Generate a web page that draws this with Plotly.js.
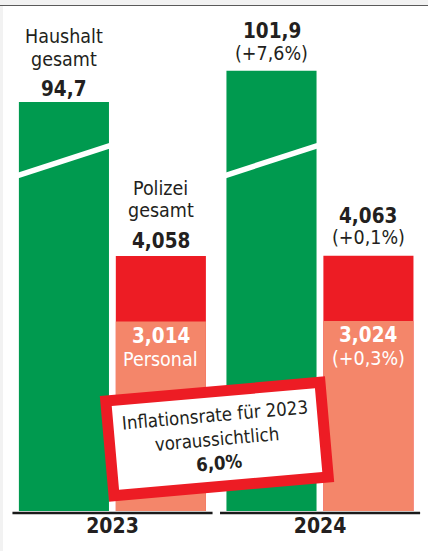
<!DOCTYPE html>
<html>
<head>
<meta charset="utf-8">
<script src="https://cdn.plot.ly/plotly-3.0.1.min.js"></script>
<style>
  html, body { margin: 0; padding: 0; background: #ffffff; }
  #chart { width: 428px; height: 551px; }
</style>
</head>
<body>
<div id="chart"></div>
<script>
// ---- data ----
const years = ['2023', '2024'];
const haushalt = [94.7, 101.9];          // Haushalt gesamt (Mrd. Euro)
const haushaltChange = [null, '+7,6%'];
const polizei = [4.058, 4.063];          // Polizei gesamt
const polizeiChange = [null, '+0,1%'];
const personal = [3.014, 3.024];         // davon Personal
const personalChange = [null, '+0,3%'];
const inflationYear = '2023';
const inflationRate = 6.0;

// ---- style ----
const FONT = '"DejaVu Sans Condensed", "Liberation Sans Narrow", sans-serif';
const FS = 19.5;
const GREEN = '#009a4f';
const RED = '#ed1c24';
const SALMON = '#f4866a';
const TEXT = '#231f20';
const W = 0.434;          // bar width (category units)
const OFF_G = -0.451;     // offset green bar
const OFF_P = 0.016;      // offset police bar
const fmt = (v, d) => v.toFixed(d).replace('.', ',');

const traces = [
  { type: 'bar', x: years, y: haushalt, width: W, offset: OFF_G, marker: { color: GREEN, line: { width: 0 } },
    yaxis: 'y', hoverinfo: 'skip' },
  { type: 'bar', x: years, y: polizei, width: W, offset: OFF_P, marker: { color: RED, line: { width: 0 } },
    yaxis: 'y2', hoverinfo: 'skip' },
  { type: 'bar', x: years, y: personal, width: W, offset: OFF_P, marker: { color: SALMON, line: { width: 0 } },
    yaxis: 'y2', hoverinfo: 'skip' }
];

const ann = [];
function line(text, xi, off, yval, yref, shift, opts) {
  ann.push(Object.assign({
    x: xi + off + W / 2, y: yval, xref: 'x', yref: yref, text: text, showarrow: false,
    yanchor: 'middle', xanchor: 'center', yshift: shift,
    font: { family: FONT, size: FS, color: TEXT }
  }, opts || {}));
}

years.forEach((yr, i) => {
  // Haushalt
  if (haushaltChange[i] === null) {
    line('Haushalt', i, OFF_G, haushalt[i], 'y', 65);
    line('gesamt', i, OFF_G, haushalt[i], 'y', 42);
    line('<b>' + fmt(haushalt[i], 1) + '</b>', i, OFF_G, haushalt[i], 'y', 13, { font: { family: FONT, size: 20.5, color: TEXT } });
  } else {
    line('<b>' + fmt(haushalt[i], 1) + '</b>', i, OFF_G, haushalt[i], 'y', 40, { font: { family: FONT, size: 20.5, color: TEXT } });
    line('(' + haushaltChange[i] + ')', i, OFF_G, haushalt[i], 'y', 17);
  }
  // Polizei
  if (polizeiChange[i] === null) {
    line('Polizei', i, OFF_P, polizei[i], 'y2', 67);
    line('gesamt', i, OFF_P, polizei[i], 'y2', 45);
    line('<b>' + fmt(polizei[i], 3) + '</b>', i, OFF_P, polizei[i], 'y2', 15, { font: { family: FONT, size: 20.5, color: TEXT } });
  } else {
    line('<b>' + fmt(polizei[i], 3) + '</b>', i, OFF_P, polizei[i], 'y2', 40, { font: { family: FONT, size: 20.5, color: TEXT } });
    line('(' + polizeiChange[i] + ')', i, OFF_P, polizei[i], 'y2', 18);
  }
  // Personal
  const wf = { family: FONT, size: FS, color: '#ffffff' };
  line('<b>' + fmt(personal[i], 3) + '</b>', i, OFF_P, personal[i], 'y2', -14, { font: { family: FONT, size: 20.5, color: '#ffffff' } });
  line(personalChange[i] === null ? 'Personal' : '(' + personalChange[i] + ')', i, OFF_P, personal[i], 'y2', -38, { font: wf });
});

// inflation stamp
ann.push({
  xref: 'paper', yref: 'paper', x: 0.507, y: 0.141, xanchor: 'center', yanchor: 'middle',
  showarrow: false, textangle: -5,
  text: 'Inflationsrate für ' + inflationYear + '<br>voraussichtlich<br><b>' + fmt(inflationRate, 1) + '%</b>',
  font: { family: FONT, size: 18.5, color: TEXT },
  bgcolor: '#ffffff', bordercolor: RED, borderwidth: 11, borderpad: 2, width: 200, height: 80
});

const shapes = [];
// break stripes on green bars
years.forEach((yr, i) => {
  shapes.push({ type: 'line', xref: 'x', yref: 'y', x0: i + OFF_G - 0.01, x1: i + OFF_G + W + 0.005,
    y0: 77.6, y1: 84.6, line: { color: '#ffffff', width: 5.5 } });
  // axis line segment per year
  shapes.push({ type: 'line', xref: 'x', yref: 'paper', x0: i - 0.482, x1: i + 0.482,
    y0: -0.004, y1: -0.004, line: { color: '#1a1a1a', width: 2.5 } });
});
// page frame: gray left strip
shapes.push({ type: 'rect', xref: 'paper', yref: 'paper', x0: 0, x1: 3 / 428, y0: -0.2, y1: 1.0,
  fillcolor: '#f2f2f2', line: { width: 0 }, layer: 'below' });

const layout = {
  width: 428, height: 551,
  margin: { l: 0, r: 0, t: 0, b: 40 },
  paper_bgcolor: '#ffffff', plot_bgcolor: 'rgba(0,0,0,0)',
  showlegend: false, barmode: 'overlay',
  xaxis: {
    type: 'category', range: [-0.542, 1.52], fixedrange: true,
    showgrid: false, zeroline: false, showline: false, ticks: '',
    tickvals: years, ticktext: years,
    tickfont: { family: FONT, size: 21, color: TEXT, weight: 'bold' }
  },
  yaxis: { range: [0, 118.3], visible: false, fixedrange: true },
  yaxis2: { range: [0, 8.13], visible: false, overlaying: 'y', fixedrange: true },
  annotations: ann,
  shapes: shapes
};

Plotly.newPlot('chart', traces, layout, { staticPlot: true, displayModeBar: false }).then(() => {
  // top frame strip
  const d = document.createElement('div');
  d.style.cssText = 'position:absolute;left:0;top:0;width:428px;height:5px;background:#f2f2f2;border-bottom:1.5px solid #5a5a5a;';
  document.body.appendChild(d);
});
</script>
</body>
</html>
